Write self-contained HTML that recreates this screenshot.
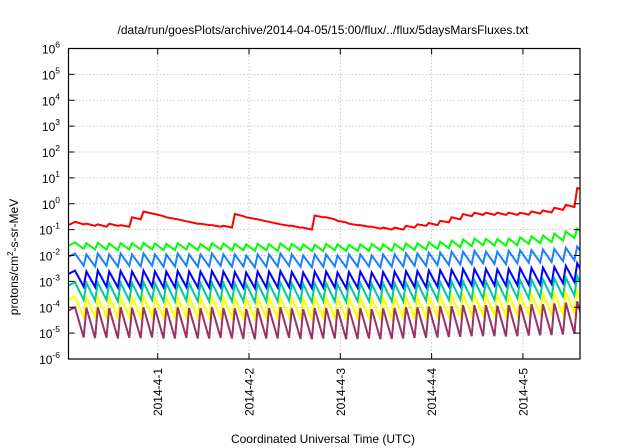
<!DOCTYPE html>
<html><head><meta charset="utf-8"><style>
html,body{margin:0;padding:0;background:#fff;}
svg{display:block;font-family:"Liberation Sans",Arial,sans-serif;}
</style></head><body>
<svg id="chart" width="640" height="448" viewBox="0 0 640 448">
<text x="323" y="34" text-anchor="middle" font-size="12">/data/run/goesPlots/archive/2014-04-05/15:00/flux/../flux/5daysMarsFluxes.txt</text>
<g id="grid"></g>
<defs><clipPath id="clip"><rect x="68.5" y="48.5" width="511.5" height="310.5"/></clipPath></defs>
<g id="series" clip-path="url(#clip)"></g>
<rect x="68.5" y="48.5" width="511.5" height="310.5" fill="none" stroke="#000" stroke-width="1.2"/>
<g id="axes"></g>
<text transform="translate(18,257) rotate(-90)" text-anchor="middle" font-size="12">protons/cm<tspan dy="-5" font-size="8">2</tspan><tspan dy="5">-s-sr-MeV</tspan></text>
<text x="323" y="443" text-anchor="middle" font-size="12">Coordinated Universal Time (UTC)</text>
</svg>
<script>
const xTickDays = [1,2,3,4,5];
const xTickLabels = ["2014-4-1","2014-4-2","2014-4-3","2014-4-4","2014-4-5"];
const yTickExps = [-6,-5,-4,-3,-2,-1,0,1,2,3,4,5,6];
const seriesNames = ["red","green","lightblue","blue","teal","yellow","purple"];
const redPeaks = [0.2,0.17,0.16,0.17,0.15,0.3,0.5,0.4,0.3,0.25,0.2,0.17,0.15,0.14,0.4,0.3,0.25,0.2,0.16,0.14,0.12,0.35,0.3,0.22,0.17,0.15,0.13,0.12,0.12,0.14,0.16,0.18,0.22,0.3,0.4,0.45,0.45,0.45,0.45,0.45,0.5,0.55,0.7,0.9,4.0];
const redTroughs = [0.16,0.14,0.13,0.14,0.13,0.25,0.42,0.33,0.26,0.21,0.17,0.15,0.13,0.12,0.33,0.26,0.21,0.17,0.14,0.12,0.1,0.3,0.25,0.19,0.15,0.13,0.11,0.1,0.1,0.12,0.14,0.15,0.19,0.25,0.33,0.37,0.37,0.37,0.37,0.38,0.42,0.46,0.58,0.75,3.5];
const greenPeaks = [0.032,0.03,0.031,0.029,0.03,0.03,0.031,0.029,0.028,0.03,0.029,0.028,0.03,0.029,0.028,0.027,0.028,0.027,0.029,0.028,0.027,0.026,0.028,0.027,0.026,0.027,0.028,0.027,0.028,0.029,0.03,0.032,0.034,0.038,0.042,0.045,0.044,0.043,0.045,0.05,0.055,0.06,0.07,0.085,0.11];
const greenTroughs = [0.018,0.017,0.017,0.016,0.017,0.017,0.017,0.016,0.016,0.017,0.016,0.016,0.017,0.016,0.016,0.015,0.016,0.015,0.016,0.016,0.015,0.015,0.016,0.015,0.015,0.015,0.016,0.015,0.016,0.016,0.017,0.018,0.019,0.021,0.023,0.025,0.024,0.024,0.025,0.028,0.03,0.033,0.038,0.047,0.06];
const lightbluePeaks = [0.012,0.011,0.012,0.011,0.012,0.011,0.012,0.011,0.011,0.012,0.011,0.011,0.012,0.011,0.011,0.01,0.011,0.011,0.012,0.011,0.01,0.011,0.011,0.01,0.011,0.011,0.01,0.011,0.011,0.012,0.012,0.013,0.013,0.014,0.014,0.015,0.014,0.014,0.015,0.016,0.016,0.017,0.018,0.02,0.022];
const lightblueTroughs = [0.004,0.0038,0.004,0.0037,0.004,0.0038,0.004,0.0037,0.0038,0.004,0.0037,0.0038,0.004,0.0037,0.0038,0.0035,0.0037,0.0038,0.004,0.0037,0.0035,0.0037,0.0038,0.0035,0.0037,0.0038,0.0035,0.0037,0.0038,0.004,0.004,0.0042,0.0043,0.0045,0.0046,0.005,0.0047,0.0046,0.005,0.0052,0.0054,0.0056,0.006,0.0065,0.008];
const bluePeaks = [0.0026,0.0024,0.0026,0.0024,0.0025,0.0024,0.0026,0.0024,0.0024,0.0025,0.0024,0.0024,0.0025,0.0024,0.0023,0.0022,0.0024,0.0024,0.0025,0.0023,0.0022,0.0024,0.0024,0.0022,0.0023,0.0024,0.0022,0.0023,0.0024,0.0025,0.0025,0.0026,0.0027,0.0028,0.003,0.003,0.003,0.0029,0.003,0.0032,0.0033,0.0034,0.0036,0.004,0.005];
const blueTroughs = [0.00062,0.0006,0.00062,0.00058,0.0006,0.00058,0.00062,0.00058,0.00058,0.0006,0.00058,0.00058,0.0006,0.00058,0.00056,0.00055,0.00058,0.00058,0.0006,0.00056,0.00055,0.00058,0.00058,0.00055,0.00056,0.00058,0.00055,0.00056,0.00058,0.0006,0.0006,0.00062,0.00064,0.00066,0.0007,0.0007,0.0007,0.00068,0.0007,0.00074,0.00076,0.0008,0.00085,0.00095,0.0012];
const tealPeaks = [0.00092,0.00088,0.0009,0.00086,0.0009,0.00088,0.00092,0.00086,0.00086,0.0009,0.00086,0.00086,0.0009,0.00086,0.00084,0.0008,0.00086,0.00086,0.0009,0.00084,0.0008,0.00086,0.00086,0.0008,0.00084,0.00086,0.0008,0.00084,0.00086,0.0009,0.0009,0.00092,0.00095,0.001,0.001,0.0011,0.001,0.001,0.0011,0.0011,0.0012,0.0012,0.0013,0.0014,0.0016];
const tealTroughs = [0.00019,0.00018,0.00019,0.00017,0.00018,0.00018,0.00019,0.00017,0.00017,0.00018,0.00017,0.00017,0.00018,0.00017,0.00017,0.00016,0.00017,0.00017,0.00018,0.00017,0.00016,0.00017,0.00017,0.00016,0.00017,0.00017,0.00016,0.00017,0.00017,0.00018,0.00018,0.00019,0.00019,0.0002,0.0002,0.00022,0.0002,0.0002,0.00022,0.00022,0.00024,0.00024,0.00026,0.00028,0.00032];
const yellowPeaks = [0.00026,0.00024,0.00025,0.00024,0.00025,0.00024,0.00026,0.00024,0.00024,0.00025,0.00024,0.00024,0.00025,0.00024,0.00023,0.00022,0.00024,0.00024,0.00025,0.00023,0.00022,0.00024,0.00024,0.00022,0.00023,0.00024,0.00022,0.00023,0.00024,0.00025,0.00025,0.00026,0.00027,0.00028,0.0003,0.0003,0.0003,0.00029,0.0003,0.00031,0.00032,0.00033,0.00035,0.00038,0.00042];
const yellowTroughs = [0.000042,0.00004,0.000041,0.000039,0.00004,0.000039,0.000042,0.000039,0.000039,0.00004,0.000039,0.000039,0.00004,0.000039,0.000037,0.000036,0.000039,0.000039,0.00004,0.000037,0.000036,0.000039,0.000039,0.000036,0.000037,0.000039,0.000036,0.000037,0.000039,0.00004,0.00004,0.000042,0.000043,0.000045,0.000048,0.000048,0.000048,0.000046,0.000048,0.00005,0.000052,0.000053,0.000056,0.00006,0.000068];
const purplePeaks = [0.0001,0.000095,0.0001,0.000092,0.0001,0.000095,0.0001,0.000092,0.000092,0.0001,0.000092,0.000092,0.0001,0.000092,0.00009,0.000085,0.000092,0.000092,0.0001,0.00009,0.000085,0.000092,0.000092,0.000085,0.00009,0.000092,0.000085,0.00009,0.000092,0.0001,0.0001,0.000105,0.00011,0.00011,0.00012,0.00012,0.00012,0.000115,0.00012,0.000125,0.00013,0.00013,0.00014,0.00015,0.00017];
const purpleTroughs = [0.0000068,0.0000064,0.0000066,0.0000062,0.0000066,0.0000064,0.0000068,0.0000062,0.0000062,0.0000066,0.0000062,0.0000062,0.0000066,0.0000062,0.000006,0.0000058,0.0000062,0.0000062,0.0000066,0.000006,0.0000058,0.0000062,0.0000062,0.0000058,0.000006,0.0000062,0.0000058,0.000006,0.0000062,0.0000066,0.0000066,0.0000068,0.000007,0.0000072,0.0000076,0.0000076,0.0000076,0.0000074,0.0000076,0.000008,0.0000082,0.0000084,0.0000088,0.0000095,0.000011];

const NS="http://www.w3.org/2000/svg";
const X0=68.5,X1=580,Y0=48.5,Y1=359;
const DMIN=0.023,DMAX=5.625;
function xScale(d){return X0+(d-DMIN)/(DMAX-DMIN)*(X1-X0);}
function yScale(v){const l=Math.log10(v);return Y1-(l+6)/12*(Y1-Y0);}
function mk(tag,attrs,parent){const e=document.createElementNS(NS,tag);for(const k in attrs)e.setAttribute(k,attrs[k]);parent.appendChild(e);return e;}
const grid=document.getElementById('grid'),axes=document.getElementById('axes'),sg=document.getElementById('series');

yTickExps.forEach(function(e){
  const y=yScale(Math.pow(10,e));
  if(e>-6&&e<6){
    const gl=mk('line',{x1:X0,x2:X1,y1:y,y2:y,stroke:'#bbb','stroke-width':0.8,'stroke-dasharray':'1.5,2'},grid);
    
    
  }
  const t1=mk('line',{x1:X0,x2:X0+6,y1:y,y2:y,stroke:'#000'},axes);
  
  
  const t2=mk('line',{x1:X1-6,x2:X1,y1:y,y2:y,stroke:'#000'},axes);
  
  
  const tx=mk('text',{x:60,y:y+5,'text-anchor':'end','font-size':12},axes);
  
  
  tx.innerHTML='10<tspan dy="-6" font-size="8.5">'+e+'</tspan>';
});
xTickDays.forEach(function(d,i){
  const x=xScale(d);
  const gl=mk('line',{x1:x,x2:x,y1:Y0,y2:Y1,stroke:'#bbb','stroke-width':0.8,'stroke-dasharray':'1.5,2'},grid);
  
  
  const t1=mk('line',{x1:x,x2:x,y1:Y1,y2:Y1-6,stroke:'#000'},axes);
  
  
  const t2=mk('line',{x1:x,x2:x,y1:Y0,y2:Y0+6,stroke:'#000'},axes);
  
  
  const tx=mk('text',{transform:'translate('+(x+4.5)+',368) rotate(-90)','text-anchor':'end','font-size':12},axes);
  
  
  tx.textContent=xTickLabels[i];
});

const colors={red:'#ff0000',green:'#00ff00',lightblue:'#1a80ff',blue:'#0000ff',teal:'#00c8a0',yellow:'#ffff00',purple:'#993366'};
const data={red:[redPeaks,redTroughs],green:[greenPeaks,greenTroughs],lightblue:[lightbluePeaks,lightblueTroughs],blue:[bluePeaks,blueTroughs],teal:[tealPeaks,tealTroughs],yellow:[yellowPeaks,yellowTroughs],purple:[purplePeaks,purpleTroughs]};
const PERIOD=0.125,FIRST=0.094,DECAY=0.095;
seriesNames.forEach(function(n){
  const pk=data[n][0],tr=data[n][1];
  const pts=[[xScale(DMIN),yScale(pk[0]*0.75)]];
  for(let k=0;k<pk.length;k++){
    const d=FIRST+PERIOD*k;
    pts.push([xScale(d),yScale(pk[k])]);
    pts.push([xScale(d+DECAY),yScale(tr[k])]);
  }
  const p=mk('polyline',{points:pts.map(function(q){return q[0].toFixed(1)+','+q[1].toFixed(1);}).join(' '),fill:'none',stroke:colors[n],'stroke-width':2,'stroke-linejoin':'miter'},sg);
  
  
});
</script>
</body></html>
